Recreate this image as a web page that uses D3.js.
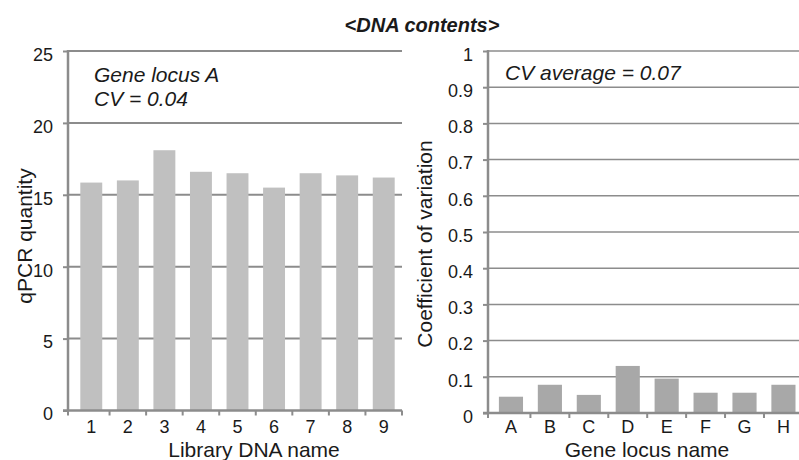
<!DOCTYPE html>
<html>
<head>
<meta charset="utf-8">
<script src="https://cdn.jsdelivr.net/npm/d3@7"></script>
<style>
body { margin: 0; background: #fff; }
svg { display: block; font-family: "Liberation Sans", Arial, sans-serif; }
</style>
</head>
<body>
<div id="chart"></div>
<script>
// left panel: qPCR quantity per library
var libraries = ["1", "2", "3", "4", "5", "6", "7", "8", "9"];
var qpcrValues = [15.85, 16.0, 18.1, 16.6, 16.5, 15.5, 16.5, 16.35, 16.2];
var leftTicks = [0, 5, 10, 15, 20, 25];

// right panel: coefficient of variation per gene locus
var loci = ["A", "B", "C", "D", "E", "F", "G", "H"];
var cvValues = [0.045, 0.078, 0.05, 0.13, 0.095, 0.056, 0.056, 0.078];
var rightTicks = [0, 0.1, 0.2, 0.3, 0.4, 0.5, 0.6, 0.7, 0.8, 0.9, 1];

var width = 799;
var height = 460;
var gridColor = "#8c8c8c";
var textColor = "#1a1a1a";

var svg = d3.select("#chart")
	.append("svg")
	.attr("width", width)
	.attr("height", height);

svg.append("text")
	.attr("x", 422)
	.attr("y", 32)
	.attr("text-anchor", "middle")
	.attr("font-size", "20px")
	.attr("font-weight", "bold")
	.attr("font-style", "italic")
	.attr("fill", textColor)
	.text("<DNA contents>");

function panel(opt) {
	var g = svg.append("g");

	var x = d3.scaleBand()
		.domain(opt.cats)
		.range(opt.xRange)
		.paddingInner(opt.pad)
		.paddingOuter(opt.pad / 2);

	var y = d3.scaleLinear()
		.domain([0, opt.max])
		.range([opt.y0, 51]);

	// gridlines
	g.selectAll("line.grid")
		.data(opt.ticks.slice(1))
		.enter()
		.append("line")
		.attr("x1", opt.axisX)
		.attr("x2", opt.gridEnd)
		.attr("y1", function(d) { return y(d); })
		.attr("y2", function(d) { return y(d); })
		.attr("stroke", gridColor)
		.attr("stroke-width", opt.gridW);

	// bars
	g.selectAll("rect")
		.data(opt.values)
		.enter()
		.append("rect")
		.attr("x", function(d, i) { return x(opt.cats[i]); })
		.attr("width", x.bandwidth())
		.attr("y", function(d) { return y(d); })
		.attr("height", function(d) { return opt.y0 - y(d); })
		.attr("fill", opt.color);

	// y axis
	var yAxis = d3.axisLeft(y)
		.tickValues(opt.ticks)
		.tickSize(5)
		.tickPadding(10)
		.tickFormat(opt.fmt);
	var ya = g.append("g")
		.attr("transform", "translate(" + opt.axisX + ",0)")
		.call(yAxis);
	ya.select(".domain").remove();
	ya.selectAll(".tick line").attr("stroke", gridColor).attr("stroke-width", 2);
	ya.selectAll(".tick text")
		.attr("font-size", "18px")
		.attr("dy", "0.52em")
		.attr("fill", textColor);

	g.append("line")
		.attr("x1", opt.axisX).attr("x2", opt.axisX)
		.attr("y1", 50).attr("y2", opt.y0 + 1)
		.attr("stroke", gridColor).attr("stroke-width", 2.5);

	// x axis
	g.append("line")
		.attr("x1", opt.axisX - 5).attr("x2", opt.gridEnd)
		.attr("y1", opt.y0).attr("y2", opt.y0)
		.attr("stroke", gridColor).attr("stroke-width", 2.5);

	var step = x.step();
	var tickXs = [opt.axisX];
	opt.cats.forEach(function(c) { tickXs.push(x(c) + x.bandwidth() / 2 + step / 2); });
	g.selectAll("line.xt")
		.data(tickXs)
		.enter()
		.append("line")
		.attr("x1", function(d) { return d; })
		.attr("x2", function(d) { return d; })
		.attr("y1", opt.y0)
		.attr("y2", opt.y0 + 5)
		.attr("stroke", gridColor)
		.attr("stroke-width", 2);

	g.selectAll("text.xl")
		.data(opt.cats)
		.enter()
		.append("text")
		.attr("x", function(d) { return x(d) + x.bandwidth() / 2; })
		.attr("y", 433)
		.attr("text-anchor", "middle")
		.attr("font-size", "18px")
		.attr("fill", textColor)
		.text(function(d) { return d; });

	g.append("text")
		.attr("x", opt.xTitleX)
		.attr("y", 457)
		.attr("text-anchor", "middle")
		.attr("font-size", "21px")
		.attr("fill", textColor)
		.text(opt.xTitle);

	g.append("text")
		.attr("transform", "translate(" + opt.yTitleX + "," + opt.yTitleY + ") rotate(-90)")
		.attr("text-anchor", "middle")
		.attr("font-size", "21px")
		.attr("fill", textColor)
		.text(opt.yTitle);

	opt.notes.forEach(function(n) {
		g.append("text")
			.attr("x", n[0])
			.attr("y", n[1])
			.attr("font-size", "21px")
			.attr("font-style", "italic")
			.attr("fill", textColor)
			.text(n[2]);
	});
}

panel({
	cats: libraries, values: qpcrValues, ticks: leftTicks, max: 25,
	xRange: [73, 402], pad: 0.4, axisX: 68, gridEnd: 402, y0: 410.5,
	gridW: 2, color: "#c0c0c0", fmt: d3.format("d"),
	xTitle: "Library DNA name", xTitleX: 254,
	yTitle: "qPCR quantity", yTitleX: 32, yTitleY: 236,
	notes: [[94, 82, "Gene locus A"], [94, 106, "CV = 0.04"]]
});

panel({
	cats: loci, values: cvValues, ticks: rightTicks, max: 1,
	xRange: [491.5, 802.9], pad: 0.38, axisX: 488, gridEnd: 799, y0: 413,
	gridW: 1.5, color: "#a8a8a8", fmt: function(d) { return d === 0 || d === 1 ? d3.format("d")(d) : d3.format(".1f")(d); },
	xTitle: "Gene locus name", xTitleX: 647,
	yTitle: "Coefficient of variation", yTitleX: 432, yTitleY: 244,
	notes: [[505, 80, "CV average = 0.07"]]
});
</script>
</body>
</html>
